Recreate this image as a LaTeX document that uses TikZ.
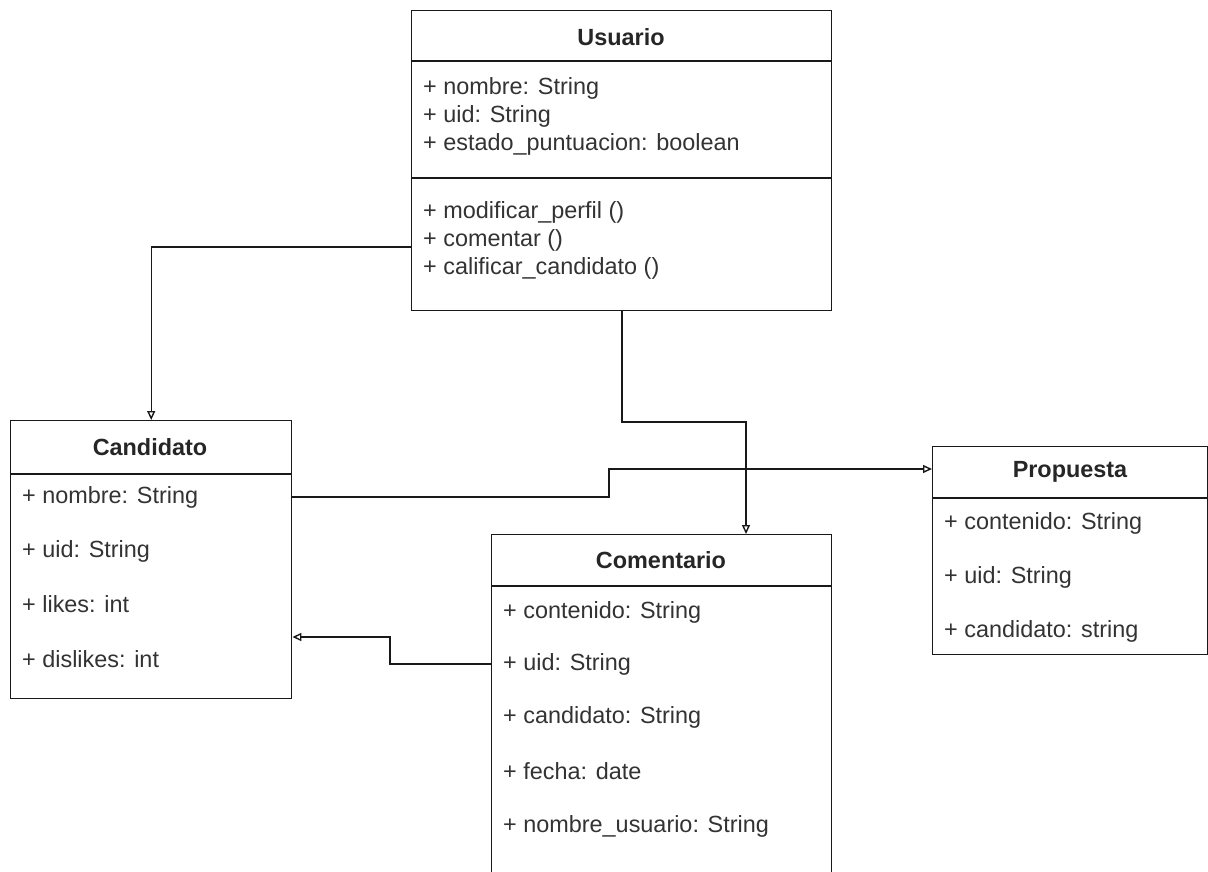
\documentclass[tikz,border=0pt]{standalone}
\usepackage{fontspec}
\setmainfont{Liberation Sans}
\usetikzlibrary{arrows.meta}
\begin{document}
\begin{tikzpicture}[x=1bp,y=-1bp,
  box/.style={draw=black!90, line width=1.4bp, anchor=north west, inner sep=0pt, fill=white},
  sep/.style={draw=black!90, line width=1.4bp},
  attr/.style={anchor=west, inner sep=0pt, text=black!80, font=\fontsize{23.5}{28}\selectfont},
  head/.style={inner sep=0pt, text=black!85, font=\fontsize{23.5}{28}\selectfont\bfseries},
  assoc/.style={draw=black!90, line width=1.4bp, -{Triangle[open, length=9bp, width=8bp]}}]
\useasboundingbox (0,0) rectangle (1208,872);
\clip (0,0) rectangle (1208,872);
\fill[white] (0,0) rectangle (1208,872);

% Usuario
\node[box, minimum width=420bp, minimum height=300bp] (usu) at (411,10) {};
\draw[sep] (411,61) -- (831,61);
\draw[sep] (411,178) -- (831,178);
\node[head] (usuT) at (621,37) {Usuario};
\node[attr] (u1) at (423,88) {+ nombre: String};
\node[attr] (u2) at (423,116) {+ uid: String};
\node[attr] (u3) at (423,144) {+ estado\_puntuacion: boolean};
\node[attr] (u4) at (423,212) {+ modificar\_perfil ()};
\node[attr] (u5) at (423,240) {+ comentar ()};
\node[attr] (u6) at (423,268) {+ calificar\_candidato ()};

% Candidato
\node[box, minimum width=281bp, minimum height=278bp] (cand) at (10,420) {};
\draw[sep] (10,474) -- (291,474);
\node[head] (candT) at (150,447) {Candidato};
\node[attr] (c1) at (22,497) {+ nombre: String};
\node[attr] (c2) at (22,551) {+ uid: String};
\node[attr] (c3) at (22,604) {+ likes: int};
\node[attr] (c4) at (22,659) {+ dislikes: int};

% Propuesta
\node[box, minimum width=275bp, minimum height=208bp] (prop) at (932,446) {};
\draw[sep] (932,498) -- (1207,498);
\node[head] (propT) at (1070,472) {Propuesta};
\node[attr] (p1) at (944,523) {+ contenido: String};
\node[attr] (p2) at (944,577) {+ uid: String};
\node[attr] (p3) at (944,631) {+ candidato: string};

% Comentario
\node[box, minimum width=340bp, minimum height=380bp] (com) at (491,534) {};
\draw[sep] (491,586) -- (831,586);
\node[head] (comT) at (661,560) {Comentario};
\node[attr] (m1) at (503,612) {+ contenido: String};
\node[attr] (m2) at (503,664) {+ uid: String};
\node[attr] (m3) at (503,717) {+ candidato: String};
\node[attr] (m4) at (503,771) {+ fecha: date};
\node[attr] (m5) at (503,826) {+ nombre\_usuario: String};

% connectors
\draw[assoc] (usu.west |- 0,247) -| (cand.north);
\draw[assoc] (usu.south -| 622,0) -- (622,422) -| (com.north -| 746,0);
\draw[assoc] (cand.east |- 0,497) -- (609,497) -- (609,469) -- (prop.west |- 0,469);
\draw[assoc] (com.west |- 0,664) -- (390,664) -- (390,637) -- (cand.east |- 0,637);
\end{tikzpicture}
\end{document}
